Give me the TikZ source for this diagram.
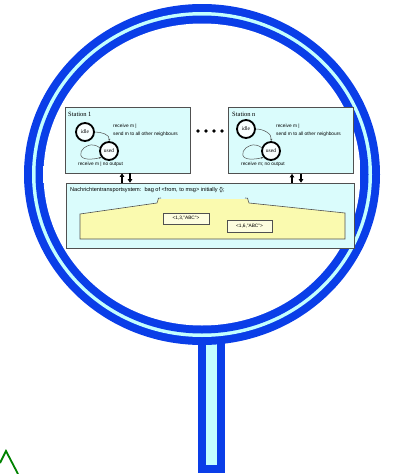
\documentclass[tikz,border=0pt]{standalone}
\usepackage{fontspec}
\setmainfont{Liberation Serif}
\newfontfamily\lsans{Liberation Sans}
\usetikzlibrary{arrows.meta,calc}
\definecolor{ringblue}{RGB}{10,62,232}
\definecolor{ringlight}{RGB}{195,255,255}
\definecolor{incyan}{RGB}{226,255,255}
\definecolor{boxcyan}{RGB}{218,252,252}
\definecolor{boxline}{RGB}{80,80,80}
\definecolor{bagyellow}{RGB}{250,250,175}
\definecolor{hatgreen}{RGB}{0,130,0}
\tikzset{
  stbox/.style={draw=boxline, line width=0.7pt, fill=boxcyan, minimum width=125pt, minimum height=66pt, inner sep=0pt},
  sysbox/.style={draw=boxline, line width=0.7pt, fill=boxcyan, minimum width=288pt, minimum height=65pt, inner sep=0pt},
  state/.style={circle, draw=black, line width=1.8pt, fill=white!85!boxcyan, minimum size=18pt, inner sep=0pt, font=\fontsize{5.5}{6}\selectfont},
  lbl/.style={anchor=west, inner sep=0pt, font=\lsans\fontsize{4.8}{5.5}\selectfont},
  ttl/.style={anchor=west, inner sep=0pt, font=\fontsize{6.5}{7}\selectfont},
  edge/.style={draw=boxline, line width=0.5pt, -{Stealth[length=2.5pt,width=2pt]}},
  msgbox/.style={draw=boxline, line width=0.5pt, fill=white!60!bagyellow, inner sep=0pt, font=\lsans\fontsize{4.8}{5.5}\selectfont},
  tiparrow/.style={draw=black, line width=1.2pt, -{Triangle[length=3.5pt,width=4.5pt]}},
}
\begin{document}
\begin{tikzpicture}[x=1pt,y=-1pt]
\useasboundingbox (0,0) rectangle (394,474);
% handle
\fill[ringblue] (198,320) rectangle (225,473);
\fill[ringlight] (206,320) rectangle (217,465);
% magnifier ring
\fill[ringblue] (202,174.5) ellipse [x radius=178, y radius=170.5];
\fill[ringlight] (202,174.5) ellipse [x radius=170, y radius=162.5];
\fill[ringblue] (202,174.5) ellipse [x radius=166.5, y radius=159];
\shade[top color=white, middle color=incyan, bottom color=white] (202,174.5) ellipse [x radius=158.5, y radius=151];
% green hat
\draw[hatgreen, line width=1.8pt] (0,463) -- (6,451) -- (18,474);
% station boxes
\node[stbox] (st1) at (127.5,140) {};
\node[stbox] (stn) at (291,140.5) {};
\node[sysbox] (sys) at (210,215.5) {};
% titles
\node[ttl] (t1) at (68,114) {Station 1};
\node[ttl] (tn) at (232,114.5) {Station n};
% station 1 contents
\node[state] (idle1) at (85,132) {idle};
\node[state] (used1) at (109,151) {used};
\draw[edge] (idle1.east) to[out=0,in=80] (used1.north);
\draw[edge] (used1.160) .. controls (84,136) and (66,166) .. (used1.220);
\node[lbl] (l1a) at (113,126) {receive m |};
\node[lbl] (l1b) at (113,134.5) {send m to all other neighbours};
\node[lbl] (l1c) at (78,164) {receive m | no output};
% station n contents
\node[state] (idlen) at (246,129) {idle};
\node[state] (usedn) at (271,151) {used};
\draw[edge] (idlen.east) to[out=0,in=80] (usedn.north);
\draw[edge] (usedn.160) .. controls (246,136) and (228,166) .. (usedn.220);
\node[lbl] (lna) at (276,126) {receive m |};
\node[lbl] (lnb) at (276,134.5) {send m to all other neighbours};
\node[lbl] (lnc) at (241,164) {receive m; no output};
% dots
\foreach \x in {198,206,214,222}{\fill[black] (\x,131) circle (1.9);}
% arrows between stations and system
\draw[tiparrow] ($(sys.north)+(-88,0)$) -- ($(st1.south)+(-5.5,0)$);
\draw[tiparrow] ($(st1.south)+(2.5,0)$) -- ($(sys.north)+(-80,0)$);
\draw[tiparrow] ($(sys.north)+(82,0)$) -- ($(stn.south)+(1,0)$);
\draw[tiparrow] ($(stn.south)+(10,0)$) -- ($(sys.north)+(91,0)$);
% system title
\node[lbl, font=\lsans\fontsize{5.6}{6.5}\selectfont] (syst) at (70,190) {Nachrichtentransportsystem:\ \ bag of <from, to msg> initially \{\};};
% bag
\fill[bagyellow] (80,214) -- (157,203) -- (158,199) -- (248,199) -- (249,203) -- (345,213) -- (345,239) -- (80,239) -- cycle;
\draw[boxline, line width=0.6pt] (161,198) .. controls (158,198) .. (158,200) -- (157,203) -- (80,214) -- (80,239) -- (345,239) -- (345,213) -- (249,203) -- (248,200) .. controls (248,198) .. (245,198);
% messages
\node[msgbox, minimum width=46pt, minimum height=11pt] (m1) at (186,218.5) {<1,3,"ABC">};
\node[msgbox, minimum width=45pt, minimum height=12pt] (m2) at (249.5,226) {<1,6,"ABC">};
\end{tikzpicture}
\end{document}
